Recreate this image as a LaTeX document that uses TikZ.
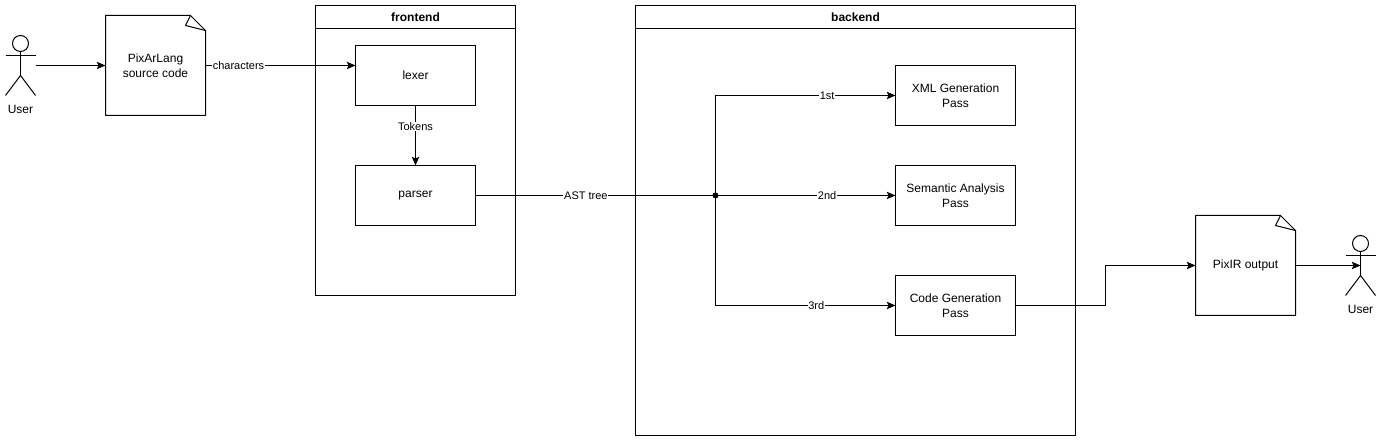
\documentclass[tikz,border=0pt]{standalone}
\usepackage{fontspec}
\setmainfont{Liberation Sans}
\usetikzlibrary{arrows.meta}
\tikzset{%
	every box/.style={
		rectangle,
		draw,
		line width=0.75pt,
		inner sep=0pt,
		outer sep=0pt,
		align=center,
		font=\fontsize{9}{11}\selectfont
	},
	stage/.style={
		every box,
		minimum width=90pt,
		minimum height=45pt
	},
	group/.style={
		every box,
		minimum width=#1
	},
	group head/.style={
		group=#1,
		minimum height=17.25pt,
		font=\fontsize{9}{11}\selectfont\bfseries
	},
	doc/.style={
		every box,
		draw=none,
		minimum width=75pt,
		minimum height=75pt
	},
	actor/.style={
		every box,
		draw=none,
		minimum width=22.5pt,
		minimum height=45pt
	},
	caption/.style={
		font=\fontsize{9}{11}\selectfont,
		inner sep=0pt
	},
	link/.style={
		line width=0.75pt,
		-{Stealth[length=6.5pt,width=5.5pt,inset=1.2pt]}
	},
	link label/.style={
		fill=white,
		inner sep=0.6pt,
		font=\fontsize{8.25}{10}\selectfont
	},
	joint/.style={
		circle,
		fill=black,
		inner sep=0pt,
		minimum size=4.5pt
	},
}
% outline of a page with a folded corner
\newcommand{\docoutline}[1]{
	\draw[line width=0.75pt, line join=round] (#1.north west) -- ([xshift=-11.25pt]#1.north east) -- ([yshift=-11.25pt]#1.north east) -- (#1.south east) -- (#1.south west) -- cycle;
	\draw[line width=0.75pt, line join=round] ([xshift=-11.25pt]#1.north east) -- ([xshift=-15pt,yshift=-7.5pt]#1.north east) -- ([yshift=-11.25pt]#1.north east);
}
% stick figure inside an actor node
\newcommand{\stickfigure}[1]{
	\draw[line width=0.75pt] ([yshift=-6pt]#1.north) circle (6pt);
	\draw[line width=0.75pt] ([yshift=-12pt]#1.north) -- ([yshift=-30pt]#1.north);
	\draw[line width=0.75pt] ([yshift=-15pt]#1.north west) -- ([yshift=-15pt]#1.north east);
	\draw[line width=0.75pt] (#1.south west) -- ([yshift=-30pt]#1.north) -- (#1.south east);
}

\begin{document}
\begin{tikzpicture}[x=0.75pt,y=-0.75pt]
	\useasboundingbox (-0.5,-0.5) rectangle (1380.5,440.5);

	% Containers
	\node[group=150pt, minimum height=217.5pt] (frontend) at (415,150) {};
	\node[group head=150pt] (frontendhead) at (415,16.5) {frontend};
	\node[group=330pt, minimum height=322.5pt] (backend) at (855,220) {};
	\node[group head=330pt] (backendhead) at (855,16.5) {backend};

	% Actors
	\node[actor] (userin) at (20,65) {};
	\stickfigure{userin}
	\node[caption] (userinlabel) at (20,108.5) {User};
	\node[actor] (userout) at (1360,265) {};
	\stickfigure{userout}
	\node[caption] (useroutlabel) at (1360,308.5) {User};

	% Documents
	\node[doc] (source) at (155,65) {PixArLang\\source code};
	\docoutline{source}
	\node[doc] (output) at (1245,265) {PixIR output};
	\docoutline{output}

	% Stages
	\node[stage] (lexer) at (415,75) {lexer};
	\node[stage] (parser) at (415,195) {parser};
	\node[stage] (xmlpass) at (955,95) {XML Generation\\Pass};
	\node[stage] (sempass) at (955,195) {Semantic Analysis\\Pass};
	\node[stage] (codepass) at (955,305) {Code Generation\\Pass};

	% Junction for the passes
	\node[joint] (split) at (715,195) {};

	% Links
	\draw[link] (userin.east) -- (source.west);
	\draw[link] (source.east) -- node[link label, pos=0.22] {characters} ([yshift=7.5pt]lexer.west);
	\draw[link] (lexer.south) -- node[link label, pos=0.35] {Tokens} (parser.north);
	\draw[line width=0.75pt] (parser.east) -- node[link label, pos=0.46] {AST tree} (split.center);
	\draw[link] (split.center) |- node[link label, pos=0.81] {1st} (xmlpass.west);
	\draw[link] (split.center) -- node[link label, pos=0.62] {2nd} (sempass.west);
	\draw[link] (split.center) |- node[link label, pos=0.78] {3rd} (codepass.west);
	\draw[link] (codepass.east) -- ++(90,0) |- (output.west);
	\draw[link] (output.east) -- (userout.center);
\end{tikzpicture}
\end{document}
